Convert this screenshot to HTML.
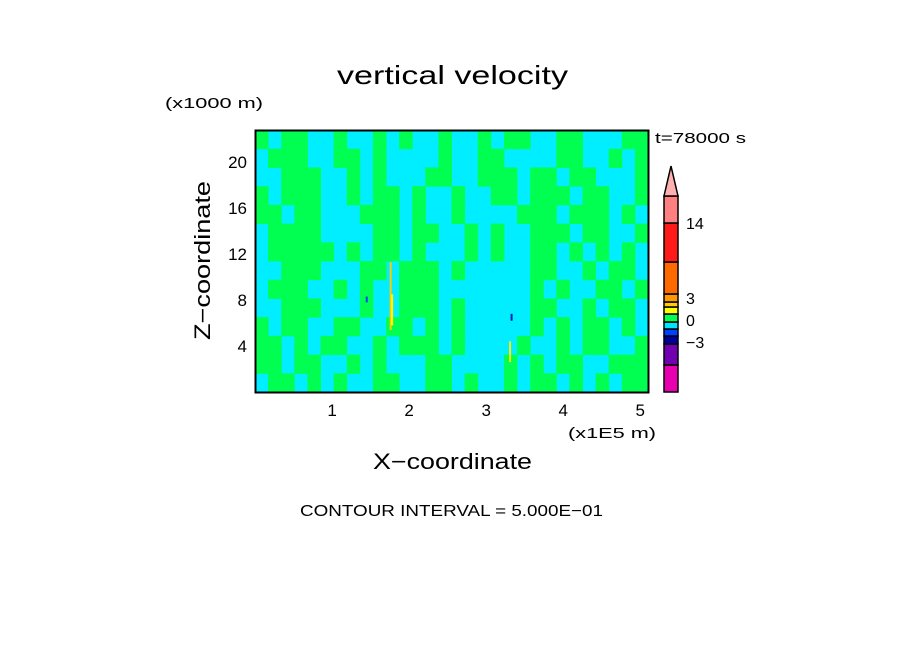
<!DOCTYPE html>
<html><head><meta charset="utf-8"><style>
html,body{margin:0;padding:0;background:#fff;}
svg{display:block;font-family:"Liberation Sans",sans-serif;}
</style></head><body>
<svg id="chart" width="904" height="654" viewBox="0 0 904 654" xmlns="http://www.w3.org/2000/svg">
<rect width="904" height="654" fill="#fff"/>
<text x="337" y="84" font-size="26" textLength="231" lengthAdjust="spacingAndGlyphs">vertical velocity</text>
<text x="165" y="108" font-size="15" textLength="98" lengthAdjust="spacingAndGlyphs">(x1000 m)</text>
<text x="655" y="143" font-size="15" textLength="91" lengthAdjust="spacingAndGlyphs">t=78000 s</text>
<g id="field"></g>
<rect x="255.5" y="130.5" width="393" height="262" fill="none" stroke="#000" stroke-width="2"/>
<g id="xticks"></g>
<g id="yticks"></g>
<text x="568" y="438" font-size="15" textLength="88" lengthAdjust="spacingAndGlyphs">(x1E5 m)</text>
<text x="373" y="469" font-size="22" textLength="159" lengthAdjust="spacingAndGlyphs">X−coordinate</text>
<text transform="translate(210,340) rotate(-90)" font-size="22" textLength="159" lengthAdjust="spacingAndGlyphs">Z−coordinate</text>
<text x="300" y="516" font-size="16" textLength="303" lengthAdjust="spacingAndGlyphs">CONTOUR INTERVAL = 5.000E−01</text>
<g id="cbar"></g>
</svg>
<script>
const xTicks=[1,2,3,4,5];
const yTicks=[4,8,12,16,20];
const xMax=5.1, yMax=22.8;
const fieldRows=[
"101100100101001001011001100011",
"011100110100001001100001100101",
"001110010100011001110110110001",
"101110010110100100110111011001",
"110110001110100100001110111010",
"011110000110110010100111011001",
"011111010110100010100110101010",
"001110001101110100000110010110",
"011100101001110000000101001101",
"001110001001110100000110010110",
"101100110011010100000101011010",
"110101100101110100001001011001",
"110110010100011000010101100111",
"011010100110011010010110101011"];
const streakX=[1.76,1.78,1.45,3.33,3.31];
const streakZ0=[5.4,5.8,7.8,6.2,2.6];
const streakZ1=[11.3,8.5,8.3,6.8,4.4];
const streakCol=["#ffcc00","#ffff00","#0040ff","#0020c0","#ffff00"];
const cbarColors=["#e800b0","#7000b0","#0000a0","#0040ff","#00e5ff","#00ff50","#ffff00","#ffcc00","#ff9900","#ff6a00","#ff1a1a","#ff8080"];
const cbarBounds=[392,365,344,336,329,322,314,307,302,294,262,223,196];
const cbarLabels=["14","3","0","−3"];
const cbarLabelY=[229,304,326,348];

const NS="http://www.w3.org/2000/svg";
const px0=255,px1=648,py0=392,py1=130;
const sx=v=>px0+v*(px1-px0)/xMax;
const sy=v=>py0-v*(py0-py1)/yMax;
function mk(t,a,p){const e=document.createElementNS(NS,t);for(const k in a)e.setAttribute(k,a[k]);p.appendChild(e);return e;}
const field=document.getElementById('field');
mk('rect',{x:px0,y:py1,width:px1-px0,height:py0-py1,fill:'#00eeff'},field);
const nr=fieldRows.length,nc=fieldRows[0].length;
const cw=(px1-px0)/nc,ch=(py0-py1)/nr;
fieldRows.forEach((row,r)=>{for(let c=0;c<nc;c++){if(row[c]==='1'){
 const e=mk('rect',{x:px0+c*cw,y:py1+r*ch,width:cw+0.5,height:ch+0.5,fill:'#00ff50'},field);
 
 
}}});
streakX.forEach((x,i)=>{
 const e=mk('rect',{x:sx(x)-1,y:sy(streakZ1[i]),width:2,height:sy(streakZ0[i])-sy(streakZ1[i]),fill:streakCol[i]},field);
 
 
});
const xg=document.getElementById('xticks');
xTicks.forEach(v=>{const t=mk('text',{x:sx(v),y:416,'font-size':17,'text-anchor':'middle'},xg);t.textContent=v;
 
 });
const yg=document.getElementById('yticks');
yTicks.forEach(v=>{const t=mk('text',{x:247,y:sy(v)+6,'font-size':17,'text-anchor':'end'},yg);t.textContent=v;
 
 });
const cb=document.getElementById('cbar');
cbarColors.forEach((c,i)=>{const e=mk('rect',{x:664,y:cbarBounds[i+1],width:14,height:cbarBounds[i]-cbarBounds[i+1],fill:c,stroke:'#000','stroke-width':1.5},cb);
 
 });
const tri=mk('polygon',{points:'664,196 678,196 671,166',fill:'#ffb0b0',stroke:'#000','stroke-width':1.5},cb);


cbarLabels.forEach((l,i)=>{const t=mk('text',{x:686,y:cbarLabelY[i],'font-size':16},cb);t.textContent=l;
 
 });
</script>
</body></html>
